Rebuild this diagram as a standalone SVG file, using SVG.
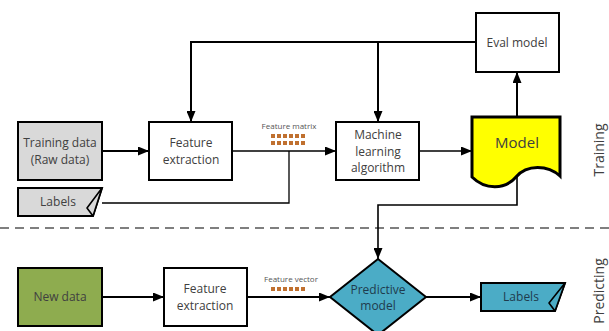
<svg xmlns="http://www.w3.org/2000/svg" width="609" height="331" viewBox="0 0 609 331">
<defs>
<style>
.box{stroke:#000;stroke-width:2}
.t{font-family:"Open Sans","Liberation Sans",sans-serif;font-size:12px;fill:#404040;text-anchor:middle}
.small{font-family:"Open Sans","Liberation Sans",sans-serif;font-size:8px;fill:#555;text-anchor:middle}
.side{font-family:"Open Sans","Liberation Sans",sans-serif;font-size:14px;fill:#404040;text-anchor:middle}
.c{fill:none;stroke:#000}
.thick{stroke-width:2}
.thin{stroke-width:1.3}
.dot{fill:#c0702f}
</style>
<marker id="arr" markerUnits="userSpaceOnUse" markerWidth="11" markerHeight="9" refX="11" refY="4.5" orient="auto">
<path d="M0,0 L11,4.5 L0,9 Z" fill="#000"/>
</marker>
</defs>
<rect width="609" height="331" fill="#fff"/>

<path d="M0,228 H609" stroke="#555" stroke-width="1.5" stroke-dasharray="9 6" fill="none"/>

<g id="connectors">
<path class="c thick" d="M102,151 H149" marker-end="url(#arr)"/>
<path class="c thin" d="M232,151 H336" marker-end="url(#arr)"/>
<path class="c thin" d="M102,203 H289 V151"/>
<path class="c thin" d="M419,151 H472" marker-end="url(#arr)"/>
<path class="c thick" d="M517,117 V72" marker-end="url(#arr)"/>
<path class="c thick" d="M476,42 H191 V122" marker-end="url(#arr)"/>
<path class="c thick" d="M378,42 V122" marker-end="url(#arr)"/>
<path class="c" stroke-width="1.6" d="M517,174 V205 H378 V259" marker-end="url(#arr)"/>
<path class="c thick" d="M102,297 H164" marker-end="url(#arr)"/>
<path class="c thick" d="M247,297 H330" marker-end="url(#arr)"/>
<path class="c thick" d="M426,297 H481" marker-end="url(#arr)"/>
</g>

<g id="feature-matrix">
<text class="small" x="289" y="129">Feature matrix</text>
<rect class="dot" x="271" y="134" width="4" height="4"/><rect class="dot" x="277" y="134" width="4" height="4"/><rect class="dot" x="283" y="134" width="4" height="4"/><rect class="dot" x="289" y="134" width="4" height="4"/><rect class="dot" x="295" y="134" width="4" height="4"/><rect class="dot" x="301" y="134" width="4" height="4"/>
<rect class="dot" x="271" y="141" width="4" height="4"/><rect class="dot" x="277" y="141" width="4" height="4"/><rect class="dot" x="283" y="141" width="4" height="4"/><rect class="dot" x="289" y="141" width="4" height="4"/><rect class="dot" x="295" y="141" width="4" height="4"/><rect class="dot" x="301" y="141" width="4" height="4"/>
</g>

<g id="feature-vector">
<text class="small" x="291" y="282">Feature vector</text>
<rect class="dot" x="271" y="287" width="4" height="4"/><rect class="dot" x="277" y="287" width="4" height="4"/><rect class="dot" x="283" y="287" width="4" height="4"/><rect class="dot" x="289" y="287" width="4" height="4"/><rect class="dot" x="295" y="287" width="4" height="4"/><rect class="dot" x="301" y="287" width="4" height="4"/>
</g>

<g id="training-data">
<rect class="box" x="18" y="122" width="84" height="58" fill="#d9d9d9"/>
<text class="t" x="60" y="147">Training data</text>
<text class="t" x="60" y="164">(Raw data)</text>
</g>

<g id="feature-extraction-1">
<rect class="box" x="149" y="122" width="83" height="58" fill="#fff"/>
<text class="t" x="191" y="147">Feature</text>
<text class="t" x="191" y="164">extraction</text>
</g>

<g id="labels-1">
<path class="box" d="M18,188 H102 L93,216 H18 Z" fill="#d9d9d9"/>
<path d="M102,188 L87,208 L93,216 Z" fill="#d9d9d9" stroke="#000" stroke-width="1.6" stroke-linejoin="round"/>
<text class="t" x="58" y="206">Labels</text>
</g>

<g id="ml-algorithm">
<rect class="box" x="336" y="122" width="83" height="58" fill="#fff"/>
<text class="t" x="378" y="139">Machine</text>
<text class="t" x="378" y="156">learning</text>
<text class="t" x="378" y="172">algorithm</text>
</g>

<g id="model">
<path d="M472,117 H560 V176 C548,165 527,164 516,177 C505,190 485,190 472,177 Z" fill="#ffff00" stroke="#000" stroke-width="3" stroke-linejoin="miter"/>
<text class="t" style="font-size:15px" x="517" y="148">Model</text>
</g>

<g id="eval-model">
<rect class="box" x="476" y="13" width="83" height="59" fill="#fff"/>
<text class="t" x="517" y="47">Eval model</text>
</g>

<g id="new-data">
<rect class="box" x="18" y="268" width="84" height="58" fill="#8eac4f"/>
<text class="t" x="60" y="301">New data</text>
</g>

<g id="feature-extraction-2">
<rect class="box" x="164" y="268" width="83" height="58" fill="#fff"/>
<text class="t" x="205" y="293">Feature</text>
<text class="t" x="205" y="310">extraction</text>
</g>

<g id="predictive-model">
<path class="box" d="M378,259 L426,297 L378,335 L330,297 Z" fill="#4bacc6" stroke-width="2.5"/>
<text class="t" x="378" y="294" style="fill:#1f3b4d">Predictive</text>
<text class="t" x="378" y="310" style="fill:#1f3b4d">model</text>
</g>

<g id="labels-2">
<path class="box" d="M481,283 H565 L555,311 H481 Z" fill="#4bacc6"/>
<path d="M565,283 L549,303 L555,311 Z" fill="#4bacc6" stroke="#000" stroke-width="1.6" stroke-linejoin="round"/>
<text class="t" x="521" y="301" style="fill:#1f3b4d">Labels</text>
</g>

<text class="side" transform="translate(604,150) rotate(-90)">Training</text>
<text class="side" transform="translate(604,291) rotate(-90)">Predicting</text>
</svg>
